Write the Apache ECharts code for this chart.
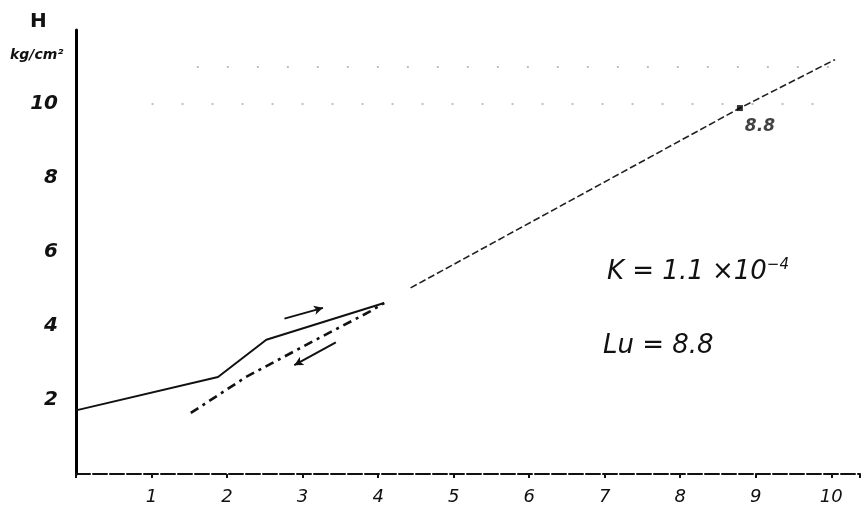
<!DOCTYPE html>
<html>
<head>
<meta charset="utf-8">
<script src="https://cdn.jsdelivr.net/npm/echarts@6/dist/echarts.min.js"></script>
<style>html,body{margin:0;padding:0;background:#fff}#c{width:863px;height:514px}</style>
</head>
<body>
<div id="c"></div>
<script>
// Loading branch (solid)
var loadingLine = [[0, 1.72], [1.88, 2.62], [2.52, 3.63], [4.08, 4.62]];
// Unloading branch (dash-dot)
var unloadingLine = [[1.52, 1.65], [2.25, 2.62], [3.15, 3.6], [3.9, 4.4], [4.08, 4.62]];
// Extrapolated straight line
var extrapLine = [[4.43, 5.03], [8.79, 9.89], [10.05, 11.2]];
// Marked point Lu
var luPoint = [[8.79, 9.89]];
// Direction arrows [from, to]
var arrowUp = [[2.76, 4.20], [3.27, 4.49]];
var arrowDown = [[3.44, 3.56], [2.89, 2.94]];
var xTicks = [1, 2, 3, 4, 5, 6, 7, 8, 9, 10];
var yTicks = [2, 4, 6, 8, 10];

var chart = echarts.init(document.getElementById('c'));
var hand = 'DejaVu Sans';
chart.setOption({
  animation: false,
  backgroundColor: '#fff',
  grid: {left: 76, right: 0, top: 30, bottom: 40},
  xAxis: {
    type: 'value', min: 0, max: 10.38, interval: 1,
    axisLine: {show: true, lineStyle: {color: '#111', width: 2, type: [14, 3]}},
    axisTick: {show: true, length: 4, lineStyle: {color: '#111', width: 2}},
    splitLine: {show: false},
    axisLabel: {
      margin: 14, color: '#111', fontFamily: hand, fontStyle: 'italic', fontSize: 18,
      formatter: function (v) { return xTicks.indexOf(v) >= 0 ? String(v) : ''; }
    }
  },
  yAxis: {
    type: 'value', min: 0, max: 12, interval: 2,
    axisLine: {show: true, lineStyle: {color: '#000', width: 3}},
    axisTick: {show: false},
    splitLine: {show: false},
    axisLabel: {
      margin: 18, color: '#111', fontFamily: hand, fontStyle: 'italic', fontWeight: 'bold', fontSize: 20,
      formatter: function (v) { return yTicks.indexOf(v) >= 0 ? String(v) : ''; }
    }
  },
  series: [
    {
      type: 'line', data: loadingLine, symbol: 'none', z: 3,
      lineStyle: {color: '#111', width: 2}
    },
    {
      type: 'line', data: unloadingLine, symbol: 'none', z: 3,
      lineStyle: {color: '#111', width: 2.6, type: [9, 5, 3, 5]}
    },
    {
      type: 'line', data: extrapLine, symbol: 'none', z: 2,
      lineStyle: {color: '#222', width: 1.6, type: [7, 3]},
      markLine: {
        silent: true, symbol: 'none', label: {show: false},
        lineStyle: {color: '#aaa', width: 1.5, type: [2, 28]},
        data: [
          [{coord: [1, 10]}, {coord: [9.9, 10]}],
          [{coord: [1.6, 11]}, {coord: [10.3, 11]}]
        ]
      }
    },
    {
      type: 'scatter', data: luPoint, symbol: 'rect', symbolSize: 6, z: 4,
      itemStyle: {color: '#000'},
      label: {
        show: true, formatter: '8.8', position: 'bottom', offset: [20, 2],
        color: '#111', fontFamily: hand, fontStyle: 'italic', fontWeight: 'bold', fontSize: 17
      }
    },
    {
      type: 'line', data: [], symbol: 'none',
      markLine: {
        silent: true, symbol: ['none', 'arrow'], symbolSize: [7, 9],
        label: {show: false},
        lineStyle: {color: '#111', width: 2, type: 'solid'},
        data: [
          [{coord: arrowUp[0]}, {coord: arrowUp[1]}],
          [{coord: arrowDown[0]}, {coord: arrowDown[1]}]
        ]
      }
    }
  ],
  graphic: [
    {type: 'text', left: 30, top: 12, style: {text: 'H', font: 'bold 20px ' + hand, fill: '#111'}},
    {type: 'text', left: 10, top: 48, style: {text: 'kg/cm²', font: 'italic bold 14px ' + hand, fill: '#111'}},
    {type: 'text', left: 607, top: 258, style: {
      rich: {
        a: {font: 'italic 26px ' + hand, fill: '#111'},
        s: {font: 'italic 15px ' + hand, fill: '#111', verticalAlign: 'top', padding: [0, 0, 14, 0]}
      },
      text: '{a|K = 1.1 ×10}{s|−4}'
    }},
    {type: 'text', left: 603, top: 333, style: {text: 'Lu = 8.8', font: 'italic 26px ' + hand, fill: '#111'}}
  ]
});
</script>
</body>
</html>
